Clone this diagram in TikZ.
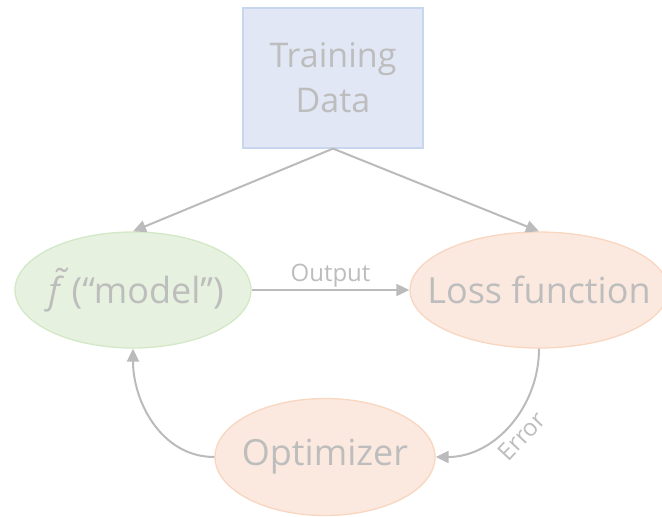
\documentclass[tikz,border=0pt]{standalone}
\usepackage{fontspec}
\setmainfont{Open Sans}
\usetikzlibrary{shapes.geometric,arrows.meta}

\definecolor{txtgray}{HTML}{BDBDBD}
\definecolor{linegray}{HTML}{BBBBBB}
\definecolor{bluefill}{HTML}{E1E7F5}
\definecolor{blueedge}{HTML}{C9D6EF}
\definecolor{greenfill}{HTML}{E7F1DF}
\definecolor{greenedge}{HTML}{D3E8C6}
\definecolor{orangefill}{HTML}{FBE9E0}
\definecolor{orangeedge}{HTML}{F8D6BF}

% ellipse text is given no width, so the ellipse keeps its set size
\newcommand{\blobtext}[1]{\makebox[0pt]{#1}}

\tikzset{
  every node/.style={text=txtgray},
  databox/.style={draw=blueedge, fill=bluefill, line width=1.2pt,
    minimum width=180pt, minimum height=140pt, align=center,
    font=\fontsize{34}{45}\selectfont},
  blob/.style={ellipse, line width=1.3pt, inner sep=0pt,
    font=\fontsize{36}{40}\selectfont},
  greenblob/.style={blob, draw=greenedge, fill=greenfill},
  orangeblob/.style={blob, draw=orangeedge, fill=orangefill},
  arr/.style={draw=linegray, line width=2pt,
    -{Triangle[length=13pt,width=12pt]}},
  edgelabel/.style={font=\fontsize{24}{26}\selectfont}
}

\begin{document}
\begin{tikzpicture}[x=1pt, y=-1pt]
  \useasboundingbox (0,0) rectangle (662,517);

  % nodes
  \node[greenblob, minimum width=236pt, minimum height=116pt] (model) at (133,290)
    {\blobtext{\hspace{6pt}{\itshape\~{f}}\hspace{12pt}(“model”)}};
  \node[databox] (data) at (333,78) {Training\\Data};
  \node[orangeblob, minimum width=258pt, minimum height=116pt] (loss) at (539,290)
    {\blobtext{Loss function}};
  \node[orangeblob, minimum width=220pt, minimum height=117pt] (opt) at (325,457)
    {\blobtext{Optimizer}};

  % connectors
  \draw[arr] (data.south) -- (model.north);
  \draw[arr] (data.south) -- (loss.north);
  \draw[arr] (model.east) -- node[edgelabel, above, inner sep=2pt] {Output} (loss.west);
  \draw[arr] (loss.south) to[out=-90, in=0]
    node[edgelabel, pos=0.5, sloped, below, inner sep=7pt] {Error} (opt.east);
  \draw[arr] (opt.west) to[out=180, in=-90] (model.south);
\end{tikzpicture}
\end{document}
